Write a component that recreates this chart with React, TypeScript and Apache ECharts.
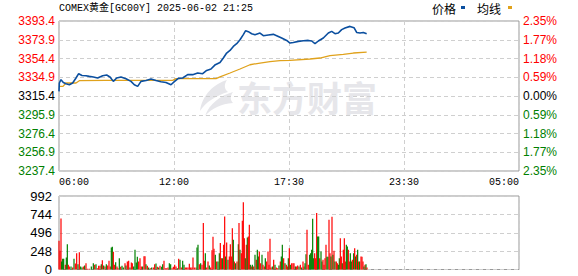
import React, { useEffect, useRef } from 'react';
import * as echarts from 'echarts';

// previous close (0.00% line)
const BASE = 3315.4;

const titleText = 'COMEX黄金[GC00Y] 2025-06-02 21:25';
const xTickLabels = ['06:00', '12:00', '17:30', '23:30', '05:00'];
// price-axis labels, bottom to top
const priceTickLabels = ['3237.4', '3256.9', '3276.4', '3295.9', '3315.4', '3334.9', '3354.4', '3373.9', '3393.4'];
const pctTickLabels = ['2.35%', '1.77%', '1.18%', '0.59%', '0.00%', '0.59%', '1.18%', '1.77%', '2.35%'];
const volTickLabels = ['0', '248', '496', '744', '992'];

// minutes after 06:00
const priceMinute = [
  0, 1, 6, 13, 21, 31, 41, 51, 59, 69, 81, 91, 103, 116, 131, 143, 153, 163, 173, 186,
  201, 216, 226, 236, 246, 261, 276, 291, 306, 321, 336, 346, 358, 371, 386, 401, 416, 431, 443, 456,
  469, 483, 493, 503, 513, 523, 533, 543, 553, 560, 568, 578, 588, 603, 613, 628, 643, 653, 668, 683,
  693, 703, 718, 733, 748, 758, 768, 778, 793, 808, 818, 828, 838, 848, 858, 873, 885, 893, 903, 913, 923,
];
const priceValue = [
  3320.2, 3328.9, 3332.4, 3329.5, 3328.2, 3327.1, 3328.9, 3334.1, 3338.6, 3336.8, 3336.5, 3335.8, 3335.2, 3334.1, 3336.5, 3337.2, 3335.2, 3330.6, 3334.1, 3335.2,
  3333.4, 3330.6, 3327.1, 3325.4, 3330.6, 3331.6, 3333.1, 3331.6, 3330.3, 3329.5, 3327.1, 3330.3, 3333.7, 3334.1, 3337.6, 3337.6, 3339.3, 3338.6, 3342.0, 3343.5,
  3348.0, 3350.3, 3354.9, 3360.1, 3362.8, 3367.0, 3369.8, 3373.9, 3379.2, 3383.3, 3382.3, 3380.2, 3379.2, 3380.9, 3378.1, 3378.8, 3379.5, 3378.1, 3375.7, 3373.2,
  3370.5, 3371.1, 3372.2, 3372.9, 3373.2, 3372.6, 3369.8, 3372.6, 3375.7, 3380.9, 3382.6, 3380.2, 3380.9, 3384.4, 3386.1, 3387.8, 3386.4, 3381.5, 3380.9, 3381.5, 3380.2,
];

const avgMinute = [0, 12, 21, 51, 61, 141, 341, 351, 471, 483, 513, 543, 573, 603, 633, 663, 693, 753, 783, 813, 853, 883, 923];
const avgValue = [3325.4, 3325.4, 3328.9, 3328.9, 3331.3, 3331.6, 3331.6, 3333.4, 3333.4, 3335.2, 3339.3, 3343.5, 3347.9, 3349.7, 3351.1, 3352.1, 3352.4, 3353.9, 3354.9, 3357.3, 3358.7, 3360.1, 3361.1];

// [minute after 06:00, volume, 1 = up (red) / 0 = down (green)]
const volumeBars: [number, number, number][] = [
  [0, 387, 1], [3, 252, 1], [6, 689, 1], [8, 108, 0], [11, 144, 0], [14, 144, 0], [19, 63, 1], [22, 162, 0], [25, 342, 0], [28, 63, 1],
  [31, 41, 1], [36, 41, 0], [41, 27, 1], [45, 144, 0], [49, 81, 1], [53, 221, 1], [57, 72, 0], [61, 234, 1], [65, 41, 0], [69, 27, 0],
  [73, 41, 1], [77, 54, 0], [81, 86, 1], [86, 9, 1], [91, 9, 1], [97, 41, 0], [103, 86, 0], [107, 63, 1], [111, 72, 0], [115, 18, 1],
  [119, 50, 1], [123, 50, 1], [127, 72, 0], [130, 126, 1], [134, 54, 0], [138, 41, 1], [142, 72, 0], [146, 54, 1], [150, 117, 1], [154, 41, 1],
  [157, 297, 0], [160, 306, 0], [163, 239, 1], [167, 63, 1], [170, 99, 0], [174, 41, 1], [177, 18, 1], [181, 153, 0], [185, 36, 1], [189, 50, 0],
  [193, 27, 0], [198, 86, 1], [201, 54, 0], [205, 108, 1], [209, 117, 1], [213, 27, 0], [217, 95, 1], [220, 86, 1], [224, 41, 0], [228, 266, 0],
  [232, 95, 0], [235, 171, 0], [239, 108, 1], [243, 153, 1], [247, 41, 1], [251, 41, 0], [255, 180, 1], [258, 180, 1], [261, 72, 0], [265, 50, 1],
  [269, 27, 0], [274, 18, 1], [278, 27, 0], [283, 27, 1], [287, 72, 1], [291, 81, 0], [295, 36, 1], [299, 27, 0], [303, 50, 1], [308, 36, 0],
  [311, 72, 0], [315, 117, 1], [319, 18, 1], [323, 18, 1], [327, 27, 1], [331, 86, 0], [335, 72, 0], [339, 18, 1], [343, 36, 1], [347, 63, 1],
  [351, 41, 1], [355, 18, 0], [359, 144, 1], [363, 131, 0], [367, 27, 1], [371, 117, 0], [375, 63, 0], [379, 27, 1], [383, 27, 1], [387, 27, 1],
  [391, 77, 1], [395, 27, 1], [399, 27, 1], [402, 162, 1], [406, 27, 1], [411, 27, 1], [414, 297, 0], [417, 333, 0], [421, 72, 1], [425, 86, 0],
  [429, 63, 1], [433, 626, 1], [436, 117, 1], [439, 221, 0], [443, 27, 1], [447, 108, 1], [451, 54, 0], [455, 27, 1], [459, 261, 1], [462, 441, 1],
  [465, 279, 1], [469, 198, 0], [473, 108, 1], [477, 108, 0], [481, 221, 0], [484, 356, 1], [487, 153, 1], [490, 153, 0], [494, 333, 1], [497, 716, 1],
  [500, 176, 0], [503, 365, 1], [507, 131, 0], [511, 176, 1], [514, 342, 1], [517, 176, 1], [520, 558, 1], [523, 401, 0], [526, 108, 1], [530, 86, 0],
  [534, 108, 1], [538, 342, 0], [540, 626, 1], [543, 266, 0], [547, 221, 1], [550, 657, 1], [553, 909, 1], [556, 423, 1], [559, 153, 0], [562, 333, 1],
  [565, 432, 0], [568, 446, 1], [571, 603, 1], [574, 63, 0], [577, 41, 1], [580, 63, 0], [584, 41, 1], [588, 198, 0], [592, 131, 1], [595, 266, 0],
  [598, 176, 0], [601, 243, 1], [605, 86, 1], [609, 198, 0], [612, 63, 1], [616, 41, 1], [619, 153, 0], [623, 108, 1], [627, 243, 1], [630, 63, 1],
  [633, 414, 1], [636, 27, 1], [640, 41, 0], [644, 131, 1], [648, 63, 0], [652, 27, 1], [656, 18, 1], [660, 54, 0], [664, 108, 1], [667, 176, 0],
  [670, 333, 0], [674, 153, 1], [678, 86, 0], [682, 63, 1], [685, 41, 1], [688, 153, 0], [691, 288, 1], [694, 63, 0], [698, 86, 1], [702, 86, 1],
  [705, 86, 1], [709, 41, 0], [712, 41, 1], [716, 54, 1], [720, 41, 0], [724, 63, 1], [728, 27, 0], [732, 108, 1], [735, 41, 1], [738, 86, 0],
  [741, 207, 0], [744, 536, 1], [748, 63, 1], [752, 198, 0], [755, 221, 0], [758, 266, 0], [761, 684, 0], [764, 153, 0], [767, 221, 1], [770, 153, 1],
  [773, 761, 1], [776, 446, 0], [779, 446, 0], [782, 153, 1], [786, 243, 0], [789, 108, 0], [792, 131, 1], [795, 63, 1], [798, 153, 1], [801, 333, 1],
  [804, 171, 0], [807, 171, 0], [810, 671, 1], [813, 221, 1], [816, 176, 0], [819, 711, 1], [822, 198, 0], [825, 252, 1], [828, 108, 0], [832, 108, 1],
  [835, 86, 1], [838, 63, 0], [841, 153, 0], [844, 423, 1], [847, 176, 1], [850, 86, 0], [853, 266, 1], [856, 423, 1], [859, 108, 1], [862, 333, 0],
  [865, 311, 0], [868, 266, 1], [871, 108, 1], [874, 221, 0], [877, 108, 0], [880, 131, 1], [884, 221, 0], [887, 288, 1], [890, 176, 0], [893, 198, 1],
  [896, 266, 0], [899, 108, 1], [902, 108, 0], [906, 176, 1], [909, 171, 1], [912, 108, 1], [915, 41, 0], [918, 63, 1], [921, 72, 0], [924, 27, 1],
];

const PRICE_COLOR = '#0b4f9f';
const AVG_COLOR = '#e0a21c';
const UP = '#ff0000';
const DOWN = '#008000';
const LOGO_D = 'M30 0 C17 4 5 15 3 31 C9 22 18 16 31 12 C27 9 27 4 30 0 Z M36 12 C24 15 12 24 8 36 C15 28 24 24 36 23 C33 20 33 16 36 12 Z';

export default function App() {
  const ref = useRef<HTMLDivElement>(null);
  useEffect(() => {
    if (!ref.current) return;
    try {
      echarts.graphic.registerShape('emlogo', (echarts.graphic as any).extendPath(LOGO_D, {}));
    } catch (e) {}
    const chart = echarts.init(ref.current, null, { renderer: 'svg' });
    const sideColor = (v: any) => {
      const n = Number(v);
      if (n > 1e-6) return UP;
      if (n < -1e-6) return DOWN;
      return '#000';
    };
    const dash = { show: true, lineStyle: { color: '#cfcfcf', type: [4, 3] as any, width: 1 } };
    const numFont = { fontFamily: 'Liberation Sans, Arial, sans-serif', fontSize: 12 };
    const option: any = {
      animation: false,
      backgroundColor: '#fff',
      grid: [
        { left: 59, top: 21, width: 460, height: 150, show: true, borderColor: '#999', borderWidth: 1, backgroundColor: 'transparent' },
        { left: 59, top: 196, width: 460, height: 74, show: true, borderColor: '#999', borderWidth: 1, backgroundColor: 'transparent' },
      ],
      xAxis: [
        {
          type: 'value', gridIndex: 0, min: 0, max: 1380, interval: 345,
          axisLine: { show: false }, axisTick: { show: false }, splitLine: dash,
          axisLabel: {
            show: true, margin: 6, color: '#000', fontFamily: 'Liberation Mono, DejaVu Sans Mono, monospace', fontSize: 10,
            alignMinLabel: 'left', alignMaxLabel: 'right',
            formatter: (v: number) => xTickLabels[Math.round(v / 345)] ?? '',
          },
        },
        {
          type: 'value', gridIndex: 1, min: 0, max: 1380, interval: 345,
          axisLine: { show: false }, axisTick: { show: false }, splitLine: dash, axisLabel: { show: false },
        },
      ],
      yAxis: [
        {
          type: 'value', gridIndex: 0, min: -78, max: 78, interval: 19.5,
          axisLine: { show: false }, axisTick: { show: false }, splitLine: dash,
          axisLabel: { ...numFont, margin: 4, color: sideColor, formatter: (_v: number, i: number) => priceTickLabels[i] ?? '' },
        },
        {
          type: 'value', gridIndex: 0, min: -78, max: 78, interval: 19.5, position: 'right',
          axisLine: { show: false }, axisTick: { show: false }, splitLine: { show: false },
          axisLabel: { ...numFont, margin: 4, color: sideColor, formatter: (_v: number, i: number) => pctTickLabels[i] ?? '' },
        },
        {
          type: 'value', gridIndex: 1, min: 0, max: 992, interval: 248,
          axisLine: { show: false }, axisTick: { show: false }, splitLine: dash,
          axisLabel: { ...numFont, fontSize: 13, margin: 7, color: '#000', formatter: (_v: number, i: number) => volTickLabels[i] ?? '' },
        },
      ],
      series: [
        {
          name: '均线', type: 'line', xAxisIndex: 0, yAxisIndex: 0, showSymbol: false, symbol: 'none',
          lineStyle: { color: AVG_COLOR, width: 1.3 }, z: 3,
          data: avgMinute.map((m, i) => [m, +(avgValue[i] - BASE).toFixed(2)]),
        },
        {
          name: '价格', type: 'line', xAxisIndex: 0, yAxisIndex: 0, showSymbol: false, symbol: 'none',
          lineStyle: { color: PRICE_COLOR, width: 1.6 }, z: 4,
          data: priceMinute.map((m, i) => [m, +(priceValue[i] - BASE).toFixed(2)]),
        },
        {
          name: '成交量', type: 'bar', xAxisIndex: 1, yAxisIndex: 2, barWidth: 1.2,
          data: volumeBars.map(([m, v, u]) => ({ value: [m, v], itemStyle: { color: u ? UP : DOWN } })),
        },
      ],
      graphic: [
        {
          type: 'emlogo', x: 197, y: 80, scaleX: 1, scaleY: 1, z: -10, silent: true,
          style: { fill: '#e6e6ea' },
        },
        {
          type: 'text', x: 237, y: 79, z: -10, silent: true,
          style: { text: '东方财富', fill: '#e6e6ea', font: 'bold 35px "Noto Sans CJK SC", sans-serif' },
        },
        {
          type: 'text', x: 59, y: 3,
          style: { text: titleText, fill: '#000', font: '10px "Liberation Mono", "Noto Sans CJK SC", monospace' },
        },
        {
          type: 'text', x: 432, y: 2,
          style: { text: '价格', fill: '#000', font: '12px "Noto Sans CJK SC", sans-serif' },
        },
        { type: 'rect', shape: { x: 461, y: 6, width: 4, height: 3 }, style: { fill: PRICE_COLOR } },
        {
          type: 'text', x: 477, y: 2,
          style: { text: '均线', fill: '#000', font: '12px "Noto Sans CJK SC", sans-serif' },
        },
        { type: 'rect', shape: { x: 508, y: 6, width: 4, height: 3 }, style: { fill: AVG_COLOR } },
      ],
    };
    chart.setOption(option);
    return () => chart.dispose();
  }, []);
  return <div ref={ref} style={{ position: 'absolute', left: 0, top: 0, width: 578, height: 276 }} />;
}
